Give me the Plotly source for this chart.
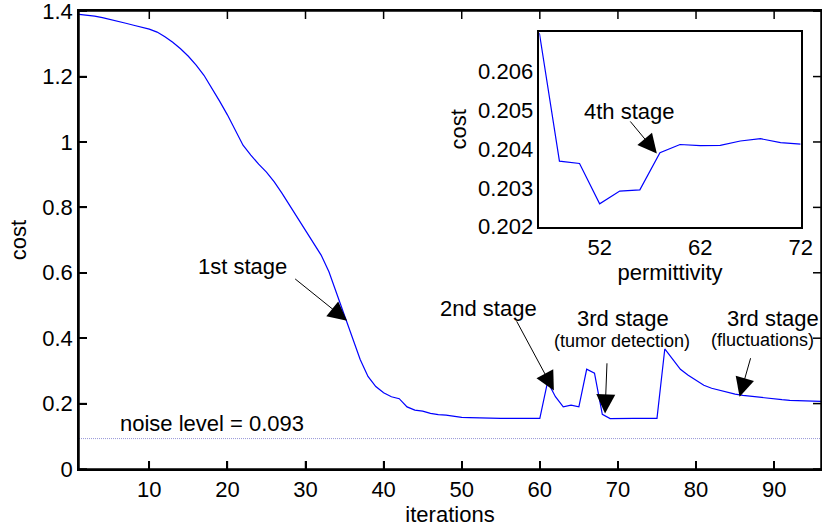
import plotly.graph_objects as go

# ---- data ----
iterations = list(range(1, 97))
cost = [1.390, 1.388, 1.385, 1.380, 1.375, 1.369, 1.363, 1.357, 1.351, 1.345,
        1.336, 1.322, 1.305, 1.285, 1.262, 1.235, 1.204, 1.166, 1.125, 1.083,
        1.035, 0.990, 0.960, 0.932, 0.908, 0.878, 0.843, 0.806, 0.767, 0.731,
        0.695, 0.654, 0.603, 0.537, 0.466, 0.400, 0.335, 0.283, 0.252, 0.233,
        0.221, 0.215, 0.190, 0.180, 0.177, 0.170, 0.166, 0.165, 0.161, 0.158,
        0.157, 0.156, 0.156, 0.155, 0.155, 0.155, 0.155, 0.155, 0.155, 0.155,
        0.267, 0.221, 0.190, 0.195, 0.190, 0.305, 0.293, 0.167, 0.154, 0.155,
        0.155, 0.155, 0.155, 0.155, 0.155, 0.367, 0.335, 0.305, 0.287, 0.271,
        0.256, 0.247, 0.241, 0.234, 0.229, 0.225, 0.222, 0.219, 0.216, 0.214,
        0.212, 0.210, 0.209, 0.208, 0.207, 0.207]
noise_level = 0.093

permittivity = [46, 48, 50, 52, 54, 56, 58, 60, 62, 64, 66, 68, 70, 72]
inset_cost = [0.20700, 0.20369, 0.20363, 0.20259, 0.20292, 0.20295, 0.20391,
              0.20412, 0.20409, 0.20410, 0.20421, 0.20427, 0.20417, 0.20413]

x_ticks = [10, 20, 30, 40, 50, 60, 70, 80, 90]
y_ticks = [0, 0.2, 0.4, 0.6, 0.8, 1.0, 1.2, 1.4]
inset_x_ticks = [52, 62, 72]
inset_y_ticks = [0.202, 0.203, 0.204, 0.205, 0.206]

FONT = "Liberation Sans, Arial, sans-serif"
W, H = 822, 532
M = dict(l=79, r=1, t=11, b=63)
PW, PH = W - M["l"] - M["r"], H - M["t"] - M["b"]
TICKLEN = 8

fig = go.Figure()
fig.add_trace(go.Scatter(x=iterations, y=cost, mode="lines",
                         line=dict(color="rgb(0,0,255)", width=1.2),
                         xaxis="x", yaxis="y", showlegend=False))
fig.add_trace(go.Scatter(x=[iterations[0], iterations[-1]], y=[noise_level, noise_level],
                         mode="lines", line=dict(color="rgb(150,150,215)", width=1, dash="1px,1px"),
                         xaxis="x", yaxis="y", showlegend=False))
fig.add_trace(go.Scatter(x=permittivity, y=inset_cost, mode="lines",
                         line=dict(color="rgb(0,0,255)", width=1.2),
                         xaxis="x2", yaxis="y2", showlegend=False))

axis_common = dict(showline=True, linecolor="black", linewidth=1.5, mirror=True,
                   ticks="inside", ticklen=TICKLEN, tickwidth=1.5, tickcolor="black",
                   showgrid=False, zeroline=False,
                   ticklabeloverflow="allow",
                   tickfont=dict(family=FONT, size=22, color="black"))

fig.update_layout(
    template="none",
    width=W, height=H,
    margin=M,
    paper_bgcolor="white", plot_bgcolor="rgba(0,0,0,0)",
    font=dict(family=FONT, size=22, color="black"),
    xaxis=dict(range=[1, 96], tickvals=x_ticks, anchor="y",
               title=dict(text="iterations", font=dict(family=FONT, size=22), standoff=3),
               automargin=False, **axis_common),
    yaxis=dict(range=[0, 1.4005], tickvals=y_ticks, anchor="x",
               title=dict(text="cost", font=dict(family=FONT, size=22), standoff=10),
               automargin=False, **axis_common),
    xaxis2=dict(range=[46, 72], tickvals=inset_x_ticks, domain=[0.6204, 0.9726], anchor="y2",
                showline=True, linecolor="black", linewidth=1.5, mirror=True,
                ticks="", showgrid=False, zeroline=False, automargin=False,
                tickfont=dict(family=FONT, size=22, color="black"),
                title=dict(text="permittivity", font=dict(family=FONT, size=22), standoff=4)),
    yaxis2=dict(range=[0.202, 0.20702], tickvals=inset_y_ticks, domain=[0.529, 0.954], anchor="x2",
                showline=True, linecolor="black", linewidth=1.5, mirror=True,
                ticks="", showgrid=False, zeroline=False, tickformat=".3f", automargin=False,
                tickfont=dict(family=FONT, size=22, color="black"),
                title=dict(text="cost", font=dict(family=FONT, size=22), standoff=5)),
)

# frame around the main axes (paper coordinates)
fig.add_shape(type="rect", xref="paper", yref="paper", x0=0, x1=1, y0=0, y1=1,
              line=dict(color="black", width=1.5), fillcolor="rgba(0,0,0,0)", layer="above")

# inward tick marks on all four sides, placed at the tick values through the axes
tx = TICKLEN / PH
ty = TICKLEN / PW
for t in x_ticks:
    for y0, y1 in ((0, tx), (1 - tx, 1)):
        fig.add_shape(type="line", xref="x", yref="paper", x0=t, x1=t, y0=y0, y1=y1,
                      line=dict(color="black", width=1.5), layer="above")
for t in y_ticks:
    for x0, x1 in ((0, ty), (1 - ty, 1)):
        fig.add_shape(type="line", xref="paper", yref="y", x0=x0, x1=x1, y0=t, y1=t,
                      line=dict(color="black", width=1.5), layer="above")

# text labels
texts = [
    ("1st stage", 21.87, 0.6206, 22, "x", "y"),
    ("2nd stage", 53.41, 0.4922, 22, "x", "y"),
    ("3rd stage", 70.69, 0.4595, 22, "x", "y"),
    ("(tumor detection)", 70.48, 0.3928, 18, "x", "y"),
    ("3rd stage", 89.9, 0.4616, 22, "x", "y"),
    ("(fluctuations)", 88.55, 0.394, 18, "x", "y"),
    ("noise level = 0.093", 18.07, 0.139, 22, "x", "y"),
    ("4th stage", 55.01, 0.20497, 22, "x2", "y2"),
]
for t, x, y, s, xr, yr in texts:
    fig.add_annotation(text=t, x=x, y=y, xref=xr, yref=yr, showarrow=False,
                       font=dict(family=FONT, size=s, color="black"),
                       xanchor="center", yanchor="middle")

# arrows: tip in data coords, tail offset in pixels
arrows = [
    (35.32, 0.4534, -53.4, -43.0, "x", "y"),
    (61.80, 0.2400, -38.0, -70.7, "x", "y"),
    (68.35, 0.1700, 2.0, -51.6, "x", "y"),
    (85.58, 0.2210, 11.4, -40.0, "x", "y"),
    (57.69, 0.20389, -27.8, -33.5, "x2", "y2"),
]
for x, y, ax, ay, xr, yr in arrows:
    fig.add_annotation(text="", x=x, y=y, xref=xr, yref=yr, ax=ax, ay=ay,
                       showarrow=True, arrowhead=2, arrowsize=3.8, arrowwidth=1,
                       arrowcolor="black", standoff=0, startstandoff=0)

fig.write_html("out.html")
